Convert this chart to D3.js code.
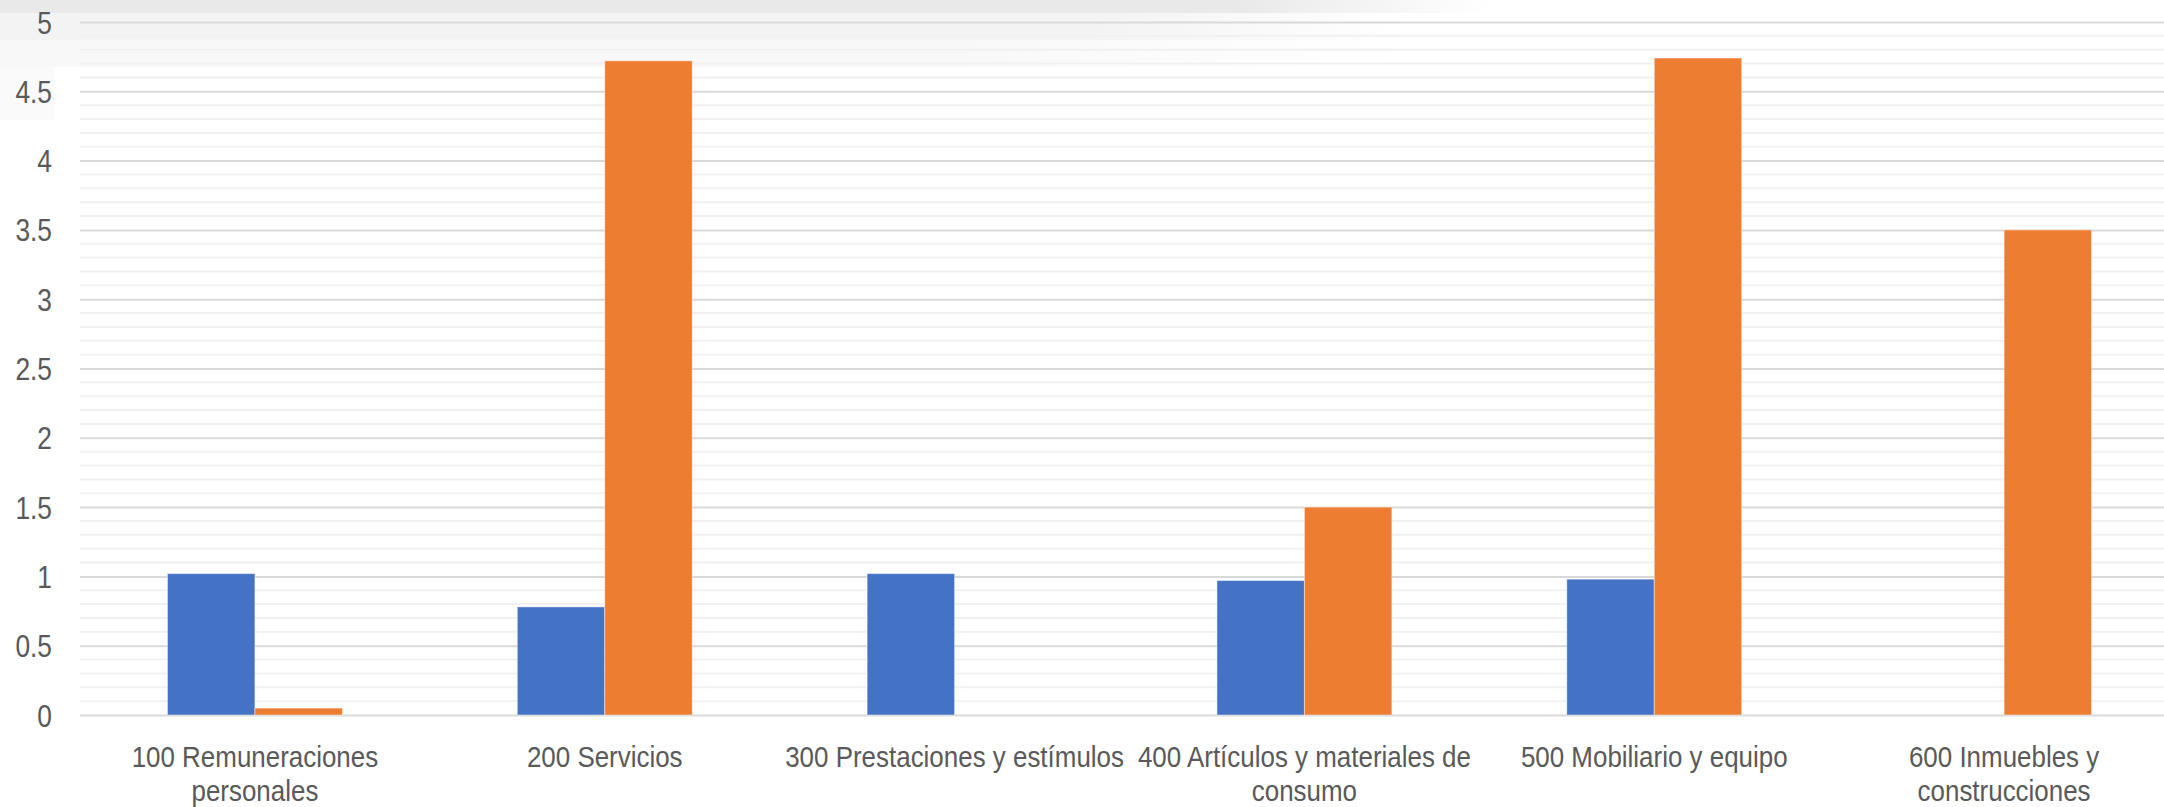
<!DOCTYPE html>
<html>
<head>
<meta charset="utf-8">
<script src="https://cdn.jsdelivr.net/npm/d3@7"></script>
<style>
  html, body { margin: 0; padding: 0; background: #ffffff; }
  svg { display: block; }
  text { font-family: "Liberation Sans", Arial, sans-serif; fill: #595959; }
</style>
</head>
<body>
<svg id="chart" width="2164" height="807"></svg>
<script>
// Capítulos de gasto
const categories = [
  "100 Remuneraciones personales",
  "200 Servicios",
  "300 Prestaciones y estímulos",
  "400 Artículos y materiales de consumo",
  "500 Mobiliario y equipo",
  "600 Inmuebles y construcciones"
];
const seriesNames = ["Serie 1", "Serie 2"];
const serie1 = [1.02, 0.78, 1.02, 0.97, 0.98, null];
const serie2 = [0.05, 4.72, null, 1.5, 4.74, 3.5];
const yTicks = [0, 0.5, 1, 1.5, 2, 2.5, 3, 3.5, 4, 4.5, 5];
const yTickLabels = ["0", "0.5", "1", "1.5", "2", "2.5", "3", "3.5", "4", "4.5", "5"];
const colors = ["#4472C4", "#ED7D31"];

const W = 2164, H = 807;
const plotLeft = 80, plotRight = 2179, plotTop = 22, plotBottom = 715;
const xFont = 30, xScaleX = 0.865;
const yFont = 31, yScaleX = 0.85;

const svg = d3.select("#chart");

const x0 = d3.scaleBand().domain(categories).range([plotLeft, plotRight]).padding(0);
const bw = x0.bandwidth();
const x1 = d3.scaleBand().domain(seriesNames).range([bw / 4, bw * 3 / 4]).padding(0);
const y = d3.scaleLinear().domain([0, 5]).range([plotBottom, plotTop]);

// soft grey band along the top edge
const defs = svg.append("defs");
function fadeGrad(id, color, stop) {
  const g = defs.append("linearGradient").attr("id", id)
    .attr("x1", "0%").attr("x2", "100%").attr("y1", "0%").attr("y2", "0%");
  g.append("stop").attr("offset", "0%").attr("stop-color", color).attr("stop-opacity", 1);
  g.append("stop").attr("offset", stop).attr("stop-color", color).attr("stop-opacity", 1);
  g.append("stop").attr("offset", "100%").attr("stop-color", color).attr("stop-opacity", 0);
}
fadeGrad("band1", "#e9e9e9", "83%");
fadeGrad("band2", "#f3f3f3", "78%");
fadeGrad("band3", "#f8f8f8", "68%");
svg.append("rect").attr("x", 0).attr("y", 0).attr("width", 1490).attr("height", 13).attr("fill", "url(#band1)");
svg.append("rect").attr("x", 0).attr("y", 13).attr("width", 1400).attr("height", 27).attr("fill", "url(#band2)");
svg.append("rect").attr("x", 0).attr("y", 40).attr("width", 1390).attr("height", 27).attr("fill", "url(#band3)");
svg.append("rect").attr("x", 0).attr("y", 67).attr("width", 54).attr("height", 53).attr("fill", "#fafafa");

// minor gridlines every 0.1
const minor = d3.range(0, 51).map(i => i / 10).filter(v => Math.round(v * 10) % 5 !== 0);
svg.append("g").selectAll("line").data(minor).join("line")
  .attr("x1", plotLeft).attr("x2", W)
  .attr("y1", d => y(d)).attr("y2", d => y(d))
  .attr("stroke", "#f1f1f1").attr("stroke-width", 2);

// major gridlines and value labels
const yAxis = d3.axisLeft(y).tickValues(yTicks).tickSize(-(W - plotLeft)).tickFormat((d, i) => yTickLabels[i]);
const gy = svg.append("g").attr("transform", `translate(${plotLeft},0)`).call(yAxis);
gy.select(".domain").remove();
gy.selectAll(".tick line").attr("stroke", "#d9d9d9").attr("stroke-width", 2);
gy.selectAll(".tick text")
  .attr("x", 0).attr("dy", null).attr("y", 0)
  .attr("text-anchor", "end")
  .style("font-size", yFont + "px")
  .attr("fill", "#595959")
  .attr("transform", `translate(-28,11) scale(${yScaleX},1)`);

// bars
const rows = categories.map((c, i) => ({ c, vals: [serie1[i], serie2[i]] }));
const groups = svg.append("g").selectAll("g").data(rows).join("g")
  .attr("transform", d => `translate(${x0(d.c)},0)`);
groups.selectAll("rect")
  .data(d => d.vals.map((v, k) => ({ k, v })).filter(e => e.v != null))
  .join("rect")
  .attr("x", e => x1(seriesNames[e.k]))
  .attr("width", x1.bandwidth())
  .attr("y", e => y(e.v))
  .attr("height", e => y(0) - y(e.v))
  .attr("fill", e => colors[e.k])
  .attr("stroke", "#ffffff").attr("stroke-opacity", 0.45).attr("stroke-width", 1);

// category labels, wrapped to the band width
const labelG = svg.append("g");
categories.forEach(c => {
  const cx = x0(c) + bw / 2;
  const words = c.split(" ");
  const probe = labelG.append("text").style("font-size", xFont + "px");
  const lines = [];
  let cur = [];
  words.forEach(w => {
    const test = cur.concat(w).join(" ");
    probe.text(test);
    if (cur.length && probe.node().getComputedTextLength() * xScaleX > bw - 4) {
      lines.push(cur.join(" "));
      cur = [w];
    } else {
      cur.push(w);
    }
  });
  if (cur.length) lines.push(cur.join(" "));
  probe.remove();
  lines.forEach((ln, i) => {
    labelG.append("text")
      .attr("text-anchor", "middle")
      .style("font-size", xFont + "px")
      .attr("transform", `translate(${cx},${767 + i * 34}) scale(${xScaleX},1)`)
      .text(ln);
  });
});
</script>
</body>
</html>
